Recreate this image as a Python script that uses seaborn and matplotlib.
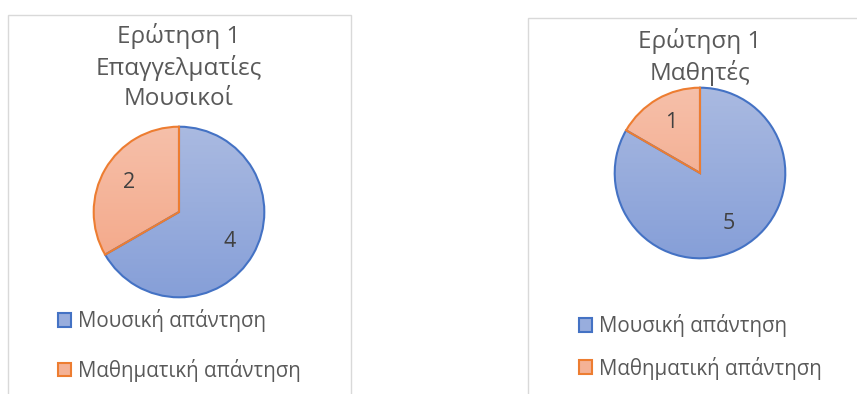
import numpy as np
import matplotlib
matplotlib.use("Agg")
import matplotlib.pyplot as plt
from matplotlib.patches import Rectangle, Wedge
import seaborn as sns

# ---- data ----
categories = ["Μουσική απάντηση", "Μαθηματική απάντηση"]
pro_values = [4, 2]
student_values = [5, 1]
title_pro = "Ερώτηση 1\nΕπαγγελματίες\nΜουσικοί"
title_student = "Ερώτηση 1\nΜαθητές"

sns.set_theme(style="white")
plt.rcParams['font.family'] = ['Open Sans', 'DejaVu Sans']

W, H = 857, 394
fig = plt.figure(figsize=(W / 100, H / 100), dpi=100)
fig.patch.set_facecolor("white")

edge_cols = ["#4472C4", "#ED7D31"]
top_cols = [np.array([0xAA, 0xBA, 0xE1]) / 255, np.array([0xF6, 0xC0, 0xAA]) / 255]
bot_cols = [np.array([0x86, 0x9F, 0xD8]) / 255, np.array([0xF3, 0xA3, 0x82]) / 255]
mid_cols = [(t + b) / 2 for t, b in zip(top_cols, bot_cols)]
TXT = "#595959"


def px_rect(x0, y0, x1, y1):
    return [x0 / W, 1 - y1 / H, (x1 - x0) / W, (y1 - y0) / H]


def draw_box(x0, y0, x1, y1):
    fig.add_artist(Rectangle((x0 / W, 1 - y1 / H), (x1 - x0) / W, (y1 - y0) / H,
                             transform=fig.transFigure, fill=False,
                             edgecolor="#D9D9D9", linewidth=1.0))


def draw_pie(values, cx, cy, R, title, title_y, leg_x, leg_y, spacing):
    ax = fig.add_axes(px_rect(cx - R, cy - R, cx + R, cy + R))
    wedges, texts, autotexts = ax.pie(
        values, startangle=90, counterclock=False, radius=1,
        colors=[tuple(c) for c in mid_cols],
        wedgeprops=dict(edgecolor="none", linewidth=0),
        autopct=lambda p: f"{round(p * sum(values) / 100):d}",
        pctdistance=0.68,
        textprops=dict(color="#404040", fontsize=15.5))
    ax.set_xlim(-1.02, 1.02)
    ax.set_ylim(-1.02, 1.02)
    ax.set_aspect("equal")
    ax.axis("off")
    grad = np.linspace(0, 1, 256)[:, None]
    for i, w in enumerate(wedges):
        img = top_cols[i][None, None, :] * (1 - grad[:, :, None]) + bot_cols[i][None, None, :] * grad[:, :, None]
        img = np.repeat(img, 2, axis=1)
        im = ax.imshow(img, extent=[-1, 1, -1, 1], origin="upper", zorder=1, aspect="auto")
        im.set_clip_path(w)
        w.set_zorder(0)
    for i, w in enumerate(wedges):
        e = Wedge(w.center, w.r, w.theta1, w.theta2, facecolor="none",
                  edgecolor=edge_cols[i], linewidth=1.5, zorder=3)
        ax.add_patch(e)
    for t in autotexts:
        t.set_zorder(5)
    fig.text(cx / W, 1 - title_y / H, title, ha="center", va="top",
             fontsize=17.5, color=TXT, linespacing=1.32)
    handles = [Rectangle((0, 0), 1, 1, facecolor=tuple(mid_cols[i]),
                         edgecolor=edge_cols[i], linewidth=1.5) for i in range(2)]
    fig.legend(handles, categories, loc="upper left",
               bbox_to_anchor=(leg_x / W, 1 - leg_y / H),
               frameon=False, fontsize=14.8, labelcolor=TXT,
               handlelength=0.65, handleheight=0.65, handletextpad=0.3,
               labelspacing=spacing, borderpad=0, borderaxespad=0)


draw_box(8, 15, 351, 400)
draw_box(528, 18, 870, 400)

draw_pie(pro_values, 179, 212, 87, title_pro, 23, 58, 309, 1.3)
draw_pie(student_values, 700, 173, 87, title_student, 28, 579, 314, 0.95)

fig.savefig("out.png", dpi=100, facecolor="white")
